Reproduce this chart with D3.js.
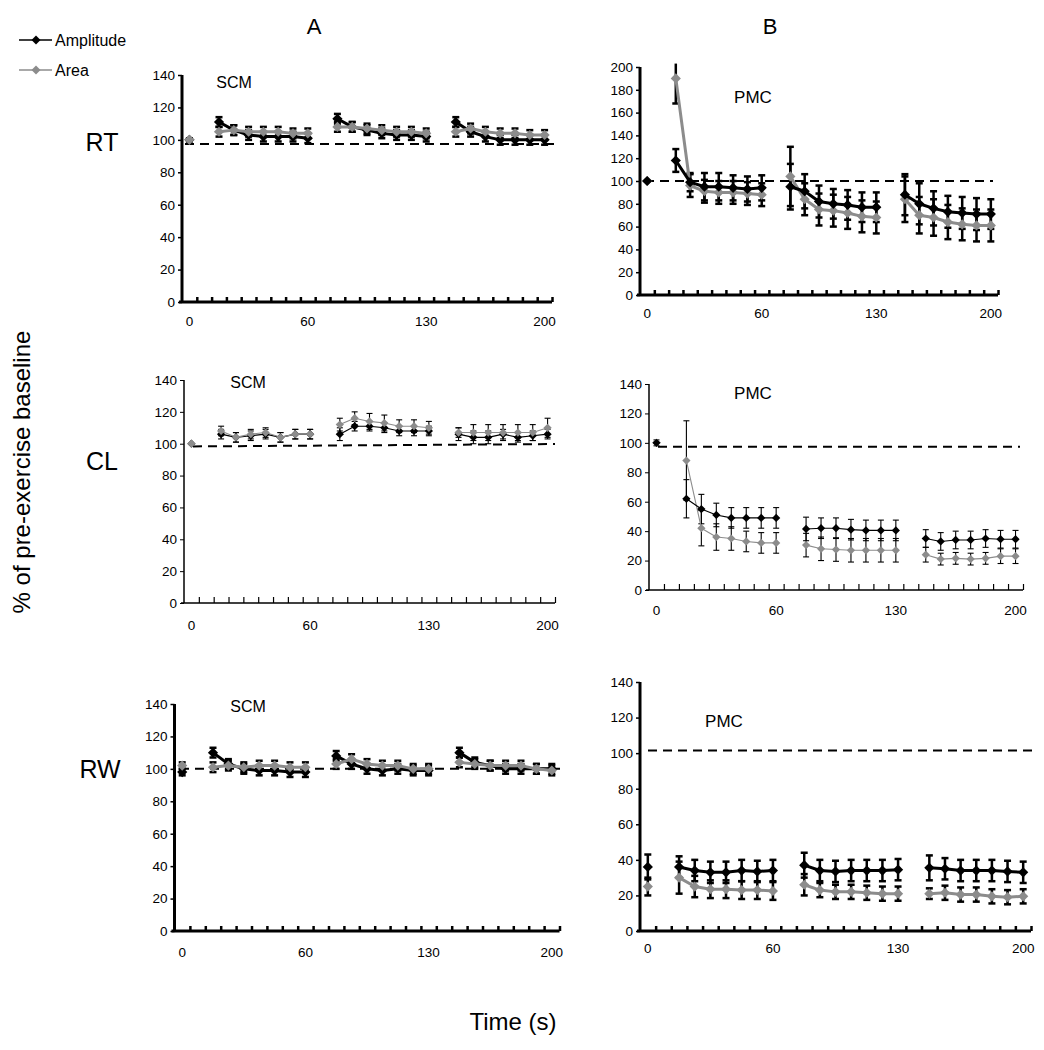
<!DOCTYPE html>
<html><head><meta charset="utf-8">
<script src="https://cdn.jsdelivr.net/npm/d3@7"></script>
<style>
body{margin:0;background:#fff}
svg{display:block}
text{font-family:"Liberation Sans",Arial,Helvetica,sans-serif;fill:#000}
</style>
</head><body>
<svg id="chart" width="1044" height="1050"></svg>
<script>
// ---------------- DATA ----------------
const slotCount = 25;                       // category slots along the time axis
const slots = [0, 2,3,4,5,6,7,8, 10,11,12,13,14,15,16, 18,19,20,21,22,23,24];
const segments = [[0,1],[1,8],[8,15],[15,22]]; // index ranges (start, end) in slots
const timeTickSlots = [0, 8, 16, 24];
const timeTickLabels = ["0", "60", "130", "200"];
const seriesNames = ["Amplitude", "Area"];
const rowLabels = ["RT", "CL", "RW"];
const colLabels = ["A", "B"];
const muscleLabels = ["SCM", "PMC"];

// RT – SCM
const rtScmAmp     = [100, 111,106,103,102,102,102,101, 113,108,106,104,103,103,102, 111,105,102,100,100,100,100];
const rtScmAmpErr  = [0,   3,3,3,3,3,3,3,               3,3,3,3,3,3,3,               3,3,3,3,3,3,3];
const rtScmArea    = [100, 105,106,105,105,105,104,104, 108,108,107,106,105,105,104, 105,107,105,104,104,103,103];
const rtScmAreaErr = [1,   3,3,3,3,3,3,3,               3,3,3,3,3,3,3,               3,3,3,3,3,3,3];
// CL – SCM
const clScmAmp     = [100, 106,104,105,106,104,106,106, 106,111,111,110,108,108,108, 106,104,104,106,104,105,106];
const clScmAmpErr  = [0,   3,3,3,3,3,3,3,               4,3,3,3,3,3,3,               4,4,4,3,3,3,3];
const clScmArea    = [100, 108,104,106,107,104,106,106, 112,116,114,113,111,111,110, 107,107,107,107,107,107,110];
const clScmAreaErr = [0,   3,3,3,3,3,3,3,               4,4,5,5,4,4,4,               3,5,5,5,5,5,6];
// RW – SCM
const rwScmAmp     = [98,  110,103,100,99,99,98,98,     108,103,100,99,100,99,99,    110,104,102,100,100,100,100];
const rwScmAmpErr  = [2,   3,3,3,3,3,3,3,               3,3,3,3,3,3,3,               3,3,3,3,3,3,3];
const rwScmArea    = [102, 101,102,101,102,102,101,101, 103,106,103,102,102,100,100, 104,103,102,102,102,100,99];
const rwScmAreaErr = [2,   3,3,3,3,3,3,3,               3,3,3,3,3,3,3,               3,3,3,3,3,3,3];
// RT – PMC
const rtPmcAmp     = [100, 118,99,95,95,94,93,94,       95,91,82,80,79,77,77,        88,80,76,73,72,71,71];
const rtPmcAmpErr  = [0,   10,8,12,12,11,11,11,         20,15,14,13,13,13,13,        18,18,15,14,14,14,13];
const rtPmcArea    = [100, 190,96,91,90,90,89,88,       104,84,75,74,72,69,68,       84,70,68,64,62,61,61];
const rtPmcAreaErr = [0,   22,10,10,10,10,10,10,        26,14,14,14,14,14,14,        20,16,16,15,14,14,14];
// CL – PMC
const clPmcAmp     = [100, 62,55,51,49,49,49,49,        41.5,42,42,41,40.5,40.5,40.5, 35,33,34,34,35,34.5,34.5];
const clPmcAmpErr  = [2,   13,10,8,7,7,7,7,             8,7,7,7,7,7,7,               6,6,6,6,6,6,6];
const clPmcArea    = [100, 88,42,36,35,33,32,32,        30.5,28,27.5,27,27,27,27,    24,21,21.5,21,21.5,23,23];
const clPmcAreaErr = [0,   27,12,9,8,7,7,7,             8,8,8,8,8,8,8,               5,4,4,4,4,5,5];
// RW – PMC
const rwPmcAmp     = [36,  36,34,33,33,34,33.5,34,      37,34,33.5,34,34,34,34.5,    35.5,35,34,34,34,33.5,33];
const rwPmcAmpErr  = [7,   6,6,6,6,6,6,6,               7,6,6,6,6,6,6,               7,6,6,6,6,6,6];
const rwPmcArea    = [25,  30,25,23.5,23.5,23,23,22.5,  26,23,22,22,21.5,21,21,      21,21.5,20.5,20.5,19.5,19,19.5];
const rwPmcAreaErr = [5,   9,6,5,5,5,5,5,               6,4,4,4,4,4,4,               3,4,4,4,4,4,4];

// y-axis maxima and dashed reference levels (start, end)
const yMaxRT_PMC = 200, yMaxDefault = 140;
const refRtScm = [97.5, 97.5], refClScm = [98.3, 99.8], refRwScm = [100, 100];
const refRtPmc = [100, 100],   refClPmc = [97.3, 97.3], refRwPmc = [101.5, 101.5];

// ---------------- LAYOUT ----------------
const panels = [
  {row:0,col:0,amp:rtScmAmp,ampErr:rtScmAmpErr,area:rtScmArea,areaErr:rtScmAreaErr,ymax:yMaxDefault,ref:refRtScm,
   x0:182,x1:552,yTop:75,yBot:302,thick:true,refX:[185,560],lab:[234,88],labSize:16,xLabDy:27,grayOnTop:true},
  {row:0,col:1,amp:rtPmcAmp,ampErr:rtPmcAmpErr,area:rtPmcArea,areaErr:rtPmcAreaErr,ymax:yMaxRT_PMC,ref:refRtPmc,
   x0:640,x1:998,yTop:67,yBot:295,thick:true,refX:[645,993],lab:[753,103],labSize:17,xLabDy:26,grayOnTop:false},
  {row:1,col:0,amp:clScmAmp,ampErr:clScmAmpErr,area:clScmArea,areaErr:clScmAreaErr,ymax:yMaxDefault,ref:refClScm,
   x0:184,x1:555,yTop:380,yBot:603,thick:false,refX:[193,555],lab:[248,388],labSize:16,xLabDy:30,grayOnTop:true},
  {row:1,col:1,amp:clPmcAmp,ampErr:clPmcAmpErr,area:clPmcArea,areaErr:clPmcAreaErr,ymax:yMaxDefault,ref:refClPmc,
   x0:649,x1:1023,yTop:384,yBot:590,thick:false,refX:[658,1020],lab:[753,399],labSize:17,xLabDy:28,grayOnTop:false},
  {row:2,col:0,amp:rwScmAmp,ampErr:rwScmAmpErr,area:rwScmArea,areaErr:rwScmAreaErr,ymax:yMaxDefault,ref:refRwScm,
   x0:174.5,x1:559.5,yTop:704,yBot:931,thick:true,refX:[180,560],lab:[248,712],labSize:16,xLabDy:29,grayOnTop:true},
  {row:2,col:1,amp:rwPmcAmp,ampErr:rwPmcAmpErr,area:rwPmcArea,areaErr:rwPmcAreaErr,ymax:yMaxDefault,ref:refRwPmc,
   x0:640,x1:1031,yTop:682,yBot:931,thick:true,refX:[648,1035],lab:[724,727],labSize:17,xLabDy:25,grayOnTop:false}
];
const GRAY = "#8c8c8c", BLACK = "#000";

const svg = d3.select("#chart");

// Global labels
svg.append("text").attr("x", 314).attr("y", 34).attr("text-anchor","middle").style("font-size","22px").text(colLabels[0]);
svg.append("text").attr("x", 770).attr("y", 34).attr("text-anchor","middle").style("font-size","22px").text(colLabels[1]);
[[102,151],[102,470],[100,778]].forEach((p,i)=>{
  svg.append("text").attr("x",p[0]).attr("y",p[1]).attr("text-anchor","middle").style("font-size","25px").text(rowLabels[i]);
});
svg.append("text").attr("transform","translate(30,472) rotate(-90)").attr("text-anchor","middle")
   .style("font-size","24px").text("% of pre-exercise baseline");
svg.append("text").attr("x",513).attr("y",1030).attr("text-anchor","middle").style("font-size","24px").text("Time (s)");

// Legend
const diamond = (size) => d3.symbol().type(d3.symbolSquare).size(size)();
[[BLACK,40],[GRAY,70]].forEach((d,i)=>{
  svg.append("line").attr("x1",19).attr("x2",52).attr("y1",d[1]).attr("y2",d[1]).attr("stroke",d[0]).attr("stroke-width",1.6);
  svg.append("path").attr("d",diamond(40)).attr("transform",`translate(36,${d[1]}) rotate(45)`).attr("fill",d[0]);
  svg.append("text").attr("x",55).attr("y",d[1]+6).style("font-size","16px").text(seriesNames[i]);
});

panels.forEach(p => {
  const g = svg.append("g");
  const xb = d3.scaleBand().domain(d3.range(slotCount)).range([p.x0, p.x1]).padding(0);
  const xl = d3.scaleLinear().domain([0, slotCount]).range([p.x0, p.x1]);
  const cx = s => xb(s) + xb.bandwidth()/2;
  const y = d3.scaleLinear().domain([0, p.ymax]).range([p.yBot, p.yTop]);
  const axisW = p.thick ? 3 : 1.5;
  const lineW = p.thick ? 3 : 1.1;
  const errW = p.thick ? 2.5 : 1.1;
  const capW = p.thick ? 3.5 : 3;
  const mSize = p.thick ? 52 : 34;

  // y axis
  const ya = g.append("g").attr("transform", `translate(${p.x0},0)`)
    .call(d3.axisLeft(y).tickValues(d3.range(0, p.ymax + 1, 20)).tickSize(4).tickPadding(3));
  ya.select(".domain").attr("stroke-width", axisW).attr("d", `M0,${p.yBot}V${p.yTop}`);
  ya.selectAll(".tick line").attr("stroke-width", p.thick ? 1.5 : 1);
  ya.selectAll("text").style("font-size","13.5px").attr("fill","#000").style("font-family",'"Liberation Sans",Arial,sans-serif');

  // x axis: band-boundary ticks pointing upward
  const xa = g.append("g").attr("transform", `translate(0,${p.yBot})`)
    .call(d3.axisBottom(xl).tickValues(d3.range(1, slotCount + 1)).tickSize(-(p.thick ? 5 : 6)).tickFormat(""));
  xa.select(".domain").attr("stroke-width", axisW).attr("d", `M${p.x0 - 3},0H${p.x1}`);
  xa.selectAll(".tick line").attr("stroke-width", p.thick ? 2.5 : 1.2);
  // time labels at slot centres
  const xt = g.append("g").attr("transform", `translate(0,${p.yBot + p.xLabDy - 13})`)
    .call(d3.axisBottom(xb).tickValues(timeTickSlots).tickSize(0).tickPadding(0)
      .tickFormat((d,i) => timeTickLabels[i]));
  xt.select(".domain").remove();
  xt.selectAll("text").style("font-size","13.5px").attr("fill","#000").style("font-family",'"Liberation Sans",Arial,sans-serif');

  // dashed reference line
  g.append("line").attr("x1", p.refX[0]).attr("x2", p.refX[1])
    .attr("y1", y(p.ref[0])).attr("y2", y(p.ref[1]))
    .attr("stroke","#000").attr("stroke-width",2).attr("stroke-dasharray","9,6");

  // muscle label
  g.append("text").attr("x", p.lab[0]).attr("y", p.lab[1]).attr("text-anchor","middle")
    .style("font-size", p.labSize + "px").text(muscleLabels[p.col]);

  const series = [
    {vals:p.amp, errs:p.ampErr, color:BLACK},
    {vals:p.area, errs:p.areaErr, color:GRAY}
  ];
  const order = p.grayOnTop ? [0,1] : [1,0];

  // error bars (beneath lines/markers)
  order.forEach(k => {
    const s = series[k];
    s.vals.forEach((v,i) => {
      const e = s.errs[i];
      if (!e) return;
      const x = cx(slots[i]);
      const top = Math.min(v + e, p.ymax + 3);
      const eg = g.append("g").attr("stroke", BLACK).attr("stroke-width", errW);
      eg.append("line").attr("x1",x).attr("x2",x).attr("y1",y(v - e)).attr("y2",y(top));
      if (v + e <= p.ymax) eg.append("line").attr("x1",x-capW).attr("x2",x+capW).attr("y1",y(v+e)).attr("y2",y(v+e));
      eg.append("line").attr("x1",x-capW).attr("x2",x+capW).attr("y1",y(v-e)).attr("y2",y(v-e));
    });
  });

  // lines and markers
  const line = d3.line().x(d => cx(d[0])).y(d => y(d[1]));
  order.forEach(k => {
    const s = series[k];
    segments.forEach(([a,b]) => {
      const pts = d3.range(a,b).map(i => [slots[i], s.vals[i]]);
      if (pts.length > 1)
        g.append("path").attr("d", line(pts)).attr("fill","none").attr("stroke", s.color)
          .attr("stroke-width", lineW).attr("stroke-linejoin","round");
    });
    s.vals.forEach((v,i) => {
      g.append("path").attr("d", diamond(mSize))
        .attr("transform", `translate(${cx(slots[i])},${y(v)}) rotate(45)`)
        .attr("fill", s.color);
    });
  });
});
</script>
</body></html>
